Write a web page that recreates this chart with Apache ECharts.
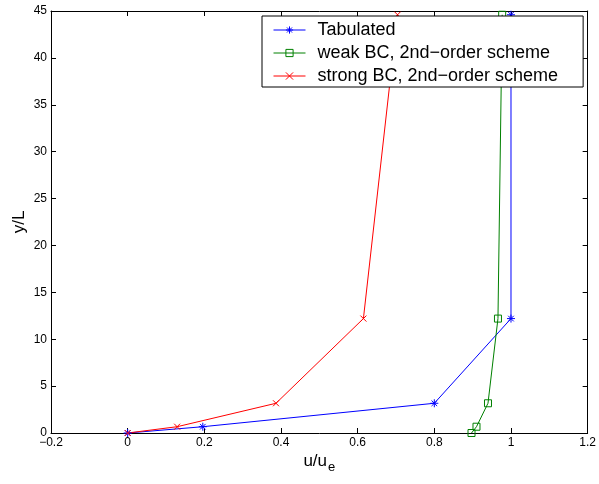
<!DOCTYPE html>
<html>
<head>
<meta charset="utf-8">
<script src="https://cdn.jsdelivr.net/npm/echarts@6/dist/echarts.min.js"></script>
<style>
html,body{margin:0;padding:0;background:#fff;}
#chart{width:599px;height:484px;}
</style>
</head>
<body>
<div id="chart"></div>
<script>
// y/L levels shared by all series
const yLevels = [0, 0.67, 3.17, 12.2, 44.6];
const tabulatedU = [0, 0.196, 0.8, 1.0, 1.0];
const weakU = [0.897, 0.91, 0.94, 0.966, 0.977];
const strongU = [0, 0.129, 0.387, 0.615, 0.704];
const seriesNames = ['Tabulated', 'weak BC, 2nd\u2212order scheme', 'strong BC, 2nd\u2212order scheme'];
const xTicks = { min: -0.2, max: 1.2, interval: 0.2 };
const yTicks = { min: 0, max: 45, interval: 5 };

const FONT = 'Liberation Sans, Arial, Helvetica, sans-serif';
const pairs = (xs, ys) => xs.map((x, i) => [x, ys[i]]);

const asterisk = 'path://M5,0L5,10M0,5L10,5M1.5,1.5L8.5,8.5M8.5,1.5L1.5,8.5';
const cross = 'path://M0,0L10,10M10,0L0,10';

function mkSeries(name, xs, color, symbol, size) {
  return {
    name: name,
    type: 'line',
    data: pairs(xs, yLevels),
    symbol: symbol,
    symbolSize: size,
    showAllSymbol: true,
    lineStyle: { color: color, width: 1 },
    itemStyle: { color: 'rgba(0,0,0,0)', borderColor: color, borderWidth: 1 },
    emphasis: { disabled: true },
    animation: false,
    clip: false
  };
}

const chart = echarts.init(document.getElementById('chart'), null, { renderer: 'canvas' });
const fmt = v => {
  const r = Math.round(v * 10) / 10;
  return String(r).replace('-', '\u2212');
};
chart.setOption({
  animation: false,
  backgroundColor: '#fff',
  textStyle: { fontFamily: FONT },
  grid: { left: 51, right: 9, top: 11, bottom: 51, containLabel: false },
  legend: {
    data: seriesNames,
    orient: 'vertical',
    left: 262,
    top: 16,
    itemWidth: 32,
    itemHeight: 9,
    itemGap: 5,
    padding: [5, 25, 2, 11],
    backgroundColor: '#fff',
    borderColor: '#000',
    borderWidth: 1,
    borderRadius: 0,
    selectedMode: false,
    lineStyle: { width: 1 },
    itemStyle: { borderWidth: 1 },
    textStyle: { fontFamily: FONT, fontSize: 18, lineHeight: 18, color: '#000', padding: [0, 0, 0, 7] }
  },
  xAxis: [{
    type: 'value', min: xTicks.min, max: xTicks.max, interval: xTicks.interval,
    position: 'bottom',
    name: 'u/u{s|e}',
    nameLocation: 'middle', nameGap: 16,
    nameMoveOverlap: false,
    nameTextStyle: { fontFamily: FONT, fontSize: 17, color: '#000',
      rich: { s: { fontFamily: FONT, fontSize: 13, color: '#000', verticalAlign: 'bottom', padding: [12, 0, 0, 1] } } },
    axisLine: { show: true, onZero: false, lineStyle: { color: '#000', width: 1 } },
    axisTick: { show: true, inside: true, length: 5, lineStyle: { color: '#000' } },
    axisLabel: { fontFamily: FONT, fontSize: 12, color: '#000', margin: 4, formatter: fmt },
    splitLine: { show: false }
  }, {
    type: 'value', min: xTicks.min, max: xTicks.max, interval: xTicks.interval,
    position: 'top',
    axisLine: { show: true, onZero: false, lineStyle: { color: '#000', width: 1 } },
    axisTick: { show: true, inside: true, length: 5, lineStyle: { color: '#000' } },
    axisLabel: { show: false },
    splitLine: { show: false }
  }],
  yAxis: [{
    type: 'value', min: yTicks.min, max: yTicks.max, interval: yTicks.interval,
    position: 'left',
    name: 'y/L',
    nameLocation: 'middle', nameGap: 23,
    nameMoveOverlap: false,
    nameTextStyle: { fontFamily: FONT, fontSize: 17, color: '#000' },
    axisLine: { show: true, onZero: false, lineStyle: { color: '#000', width: 1 } },
    axisTick: { show: true, inside: true, length: 5, lineStyle: { color: '#000' } },
    axisLabel: { fontFamily: FONT, fontSize: 12, color: '#000', margin: 4 },
    splitLine: { show: false }
  }, {
    type: 'value', min: yTicks.min, max: yTicks.max, interval: yTicks.interval,
    position: 'right',
    axisLine: { show: true, onZero: false, lineStyle: { color: '#000', width: 1 } },
    axisTick: { show: true, inside: true, length: 5, lineStyle: { color: '#000' } },
    axisLabel: { show: false },
    splitLine: { show: false }
  }],
  series: [
    mkSeries(seriesNames[0], tabulatedU, '#0000ff', asterisk, 8),
    mkSeries(seriesNames[1], weakU, '#008000', 'rect', 7),
    mkSeries(seriesNames[2], strongU, '#ff0000', cross, 6)
  ]
});
</script>
</body>
</html>
